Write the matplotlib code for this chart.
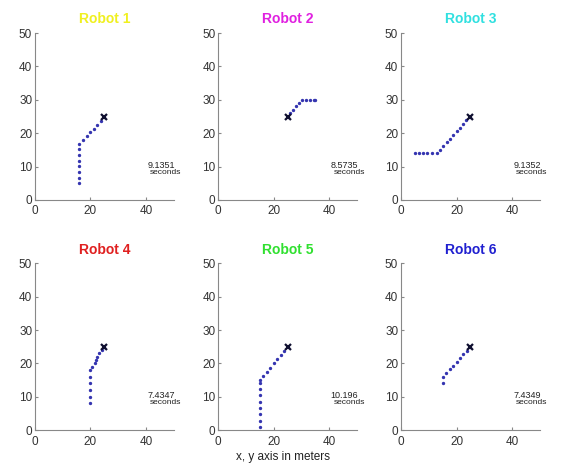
import matplotlib
matplotlib.use("Agg")
import matplotlib.pyplot as plt

plt.rcParams['font.family'] = ['Liberation Sans', 'DejaVu Sans']

# 每个机器人的轨迹点（米）
titles = ['Robot 1', 'Robot 2', 'Robot 3', 'Robot 4', 'Robot 5', 'Robot 6']
title_colors = ['#f0f020', '#e020e0', '#30e0e0', '#e02020', '#30e030', '#2020d0']
times = ['9.1351', '8.5735', '9.1352', '7.4347', '10.196', '7.4349']

r1_x = [16, 16, 16, 16, 16, 16, 16, 16, 17.3, 18.6, 19.9, 21.2, 22.5, 23.8, 25]
r1_y = [5, 6.7, 8.4, 10.1, 11.8, 13.5, 15.2, 16.9, 18.0, 19.1, 20.3, 21.4, 22.6, 23.7, 25]
r2_x = [35, 34.4, 33, 31.5, 30, 29, 28, 27, 26, 25]
r2_y = [30, 30, 30, 30, 30, 29, 28, 27, 26, 25]
r3_x = [5, 6.5, 8, 9.5, 11, 12.8, 14, 15.2, 16.4, 17.6, 18.8, 20, 21.2, 22.4, 23.6, 25]
r3_y = [14, 14, 14, 14, 14, 14, 15.1, 16.2, 17.3, 18.4, 19.5, 20.6, 21.7, 22.8, 23.9, 25]
r4_x = [20, 20, 20, 20, 20, 20, 20.6, 21.5, 22, 22.4, 23.2, 24, 25]
r4_y = [8, 10, 12, 14, 16, 18, 19, 20, 21, 22, 23, 24, 25]
r5_x = [15, 15, 15, 15, 15, 15, 15, 15, 15, 16.2, 17.5, 18.7, 20, 21.2, 22.5, 23.7, 25]
r5_y = [1, 2.8, 4.7, 6.6, 8.5, 10.4, 12.3, 14, 15, 16.2, 17.5, 18.7, 20, 21.2, 22.5, 23.7, 25]
r6_x = [15, 15, 16.2, 17.5, 18.7, 20, 21.2, 22.5, 23.7, 25]
r6_y = [14, 16, 17, 18.2, 19.3, 20.5, 21.6, 22.7, 23.8, 25]

paths = [(r1_x, r1_y), (r2_x, r2_y), (r3_x, r3_y),
         (r4_x, r4_y), (r5_x, r5_y), (r6_x, r6_y)]
goal_x, goal_y = 25, 25

fig = plt.figure(figsize=(5.64, 4.66), dpi=100)
lefts = [0.062, 0.387, 0.711]
bottoms = [0.571, 0.077]

for i, (px, py) in enumerate(paths):
    ax = fig.add_axes([lefts[i % 3], bottoms[i // 3], 0.246, 0.358])
    ax.plot(px, py, linestyle='none', marker='.', markersize=2.8, color='#3535b0')
    ax.plot(goal_x, goal_y, marker='x', markersize=5, mew=1.6, color='#101030')
    ax.set_xlim(0, 50)
    ax.set_ylim(0, 50)
    ax.set_xticks([0, 20, 40])
    ax.set_yticks([0, 10, 20, 30, 40, 50])
    for s in ['top', 'right']:
        ax.spines[s].set_visible(False)
    for s in ['left', 'bottom']:
        ax.spines[s].set_color('#888888')
    ax.tick_params(direction='in', length=2, labelsize=8.5, colors='#888888',
                   labelcolor='#333333', pad=2)
    ax.tick_params(axis='x', pad=4)
    ax.set_title(titles[i], color=title_colors[i], fontsize=10, fontweight='bold', pad=7)
    ax.text(40.5, 10.3, times[i], fontsize=6.5, color='#222222', va='center', clip_on=False)
    ax.text(41.5, 8.2, 'seconds', fontsize=6, color='#222222', va='center', clip_on=False)

fig.text(0.502, 0.02, 'x, y axis in meters', ha='center', va='center', fontsize=8.5, color='#222222')

plt.savefig('out.png', dpi=100)
